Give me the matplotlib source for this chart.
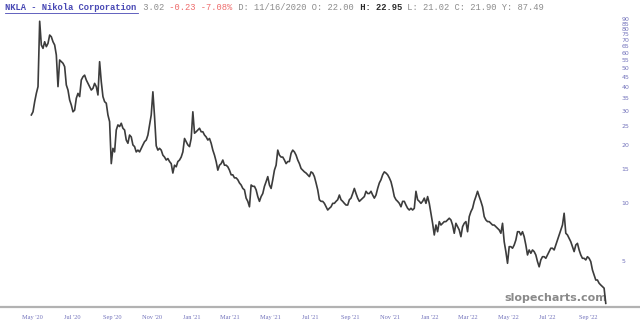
import matplotlib
matplotlib.use('Agg')
import matplotlib.pyplot as plt
import matplotlib.dates as mdates
from matplotlib.lines import Line2D
from matplotlib.ticker import NullLocator
import pandas as pd

# ---- data ----
prices = [
    28.6, 29.7, 33.5, 37.0, 40.1, 87.5, 65.9, 63.3, 68.5, 64.6,
    67.2, 74.2, 72.7, 68.5, 65.9, 58.5, 40.1, 55.1, 54.0, 53.0,
    50.9, 40.9, 38.5, 34.2, 32.2, 29.7, 30.3, 34.9, 37.0, 35.6,
    43.4, 45.1, 46.0, 43.4, 41.7, 40.1, 38.5, 39.3, 41.7, 40.1,
    36.3, 54.0, 42.5, 35.6, 33.5, 32.9, 28.6, 26.4, 16.0, 19.2,
    18.4, 23.9, 25.4, 24.9, 25.9, 24.4, 23.9, 21.2, 20.4, 22.5,
    22.0, 20.0, 19.6, 18.4, 18.8, 18.4, 19.2, 20.0, 20.8, 21.2,
    22.5, 25.4, 28.6, 37.7, 28.0, 19.8, 18.8, 19.2, 18.8, 17.7,
    17.3, 16.7, 17.0, 16.4, 16.0, 14.3, 15.7, 15.4, 16.4, 16.7,
    17.3, 18.4, 21.6, 20.8, 20.0, 19.6, 21.6, 29.7, 23.0, 23.4,
    23.9, 24.4, 23.4, 23.4, 22.5, 22.0, 21.2, 21.6, 20.4, 18.8,
    17.7, 16.4, 14.8, 15.7, 16.0, 16.7, 15.7, 15.7, 15.4, 14.8,
    14.0, 14.0, 13.5, 13.5, 13.2, 12.7, 12.4, 11.9, 11.7, 10.6,
    10.2, 9.56, 12.4, 12.2, 12.2, 11.7, 10.8, 10.2, 10.8, 11.2,
    12.2, 12.9, 13.7, 12.4, 11.9, 13.2, 14.8, 15.7, 18.8, 17.7,
    17.3, 17.3, 16.7, 16.0, 16.4, 16.4, 18.1, 18.8, 18.4, 17.7,
    16.7, 16.0, 15.1, 14.8, 14.5, 14.3, 14.0, 13.7, 14.5, 14.3,
    13.7, 12.7, 11.7, 10.4, 10.2, 10.2, 9.96, 9.56, 9.20, 9.39,
    9.56, 9.96, 9.96, 10.2, 10.4, 11.0, 10.4, 10.2, 9.96, 9.76,
    9.76, 10.4, 10.6, 11.2, 11.9, 11.2, 10.6, 10.2, 10.4, 10.6,
    10.8, 11.5, 11.2, 11.2, 11.5, 11.0, 10.6, 11.0, 11.9, 12.7,
    13.2, 14.0, 14.5, 14.3, 14.0, 13.5, 12.9, 11.9, 10.8, 10.4,
    10.2, 9.96, 9.56, 10.2, 10.2, 9.76, 9.39, 9.20, 9.39, 9.20,
    9.39, 11.5, 10.4, 10.2, 9.96, 10.2, 10.6, 9.96, 10.8, 9.96,
    8.85, 7.85, 6.83, 7.69, 7.10, 8.01, 7.69, 7.85, 8.01, 8.01,
    8.17, 8.34, 8.17, 7.69, 6.97, 7.85, 7.54, 7.25, 6.69, 7.54,
    7.85, 8.01, 7.10, 8.50, 9.02, 9.39, 10.2, 10.8, 11.5, 10.8,
    10.2, 9.56, 8.50, 8.17, 8.01, 8.01, 7.85, 7.69, 7.69, 7.54,
    7.40, 7.25, 6.97, 7.85, 6.30, 5.60, 4.87, 5.94, 5.94, 5.83,
    6.06, 6.43, 7.10, 7.10, 6.83, 7.10, 6.69, 6.06, 5.38, 5.71,
    5.49, 5.71, 5.60, 5.38, 4.97, 4.67, 5.07, 5.27, 5.27, 5.17,
    5.38, 5.60, 5.83, 5.83, 5.71, 6.06, 6.43, 6.83, 7.25, 7.69,
    8.85, 6.97, 6.83, 6.56, 6.30, 5.94, 5.60, 6.06, 6.18, 5.71,
    5.38, 5.17, 5.17, 5.07, 5.27, 5.17, 4.97, 4.50, 4.24, 3.99,
    3.99, 3.84, 3.76, 3.69, 3.62, 3.02,
]
start_date = '2020-04-30'
end_date = '2022-09-28'

ytick_values = [5, 10, 15, 20, 25, 30, 35, 40, 45, 50, 55, 60, 65, 70, 75, 80, 85, 90]
xtick_dates = ['2020-05-01', '2020-07-01', '2020-09-01', '2020-11-01', '2021-01-01',
               '2021-03-01', '2021-05-01', '2021-07-01', '2021-09-01', '2021-11-01',
               '2022-01-01', '2022-03-01', '2022-05-01', '2022-07-01', '2022-09-01']
xtick_labels = ["May '20", "Jul '20", "Sep '20", "Nov '20", "Jan '21", "Mar '21",
                "May '21", "Jul '21", "Sep '21", "Nov '21", "Jan '22", "Mar '22",
                "May '22", "Jul '22", "Sep '22"]

title_segments = [
    ("NKLA - Nikola Corporation", '#4848b4', 'bold'),
    (" 3.02", '#8c8c8c', 'normal'),
    (" -0.23 -7.08%", '#ee6c6c', 'normal'),
    (" D: 11/16/2020 O: 22.00", '#8c8c8c', 'normal'),
    (" H: 22.95", '#2a2a2a', 'bold'),
    (" L: 21.02 C: 21.90 Y: 87.49", '#8c8c8c', 'normal'),
]

# ---- layout ----
W, H = 640, 330
fig = plt.figure(figsize=(W / 100, H / 100), dpi=100)
left_px, right_px, top_px, bottom_px = 0, 612, 12, 306
ax = fig.add_axes([left_px / W, 1 - bottom_px / H,
                   (right_px - left_px) / W, (bottom_px - top_px) / H])

dates = pd.date_range(start_date, end_date, periods=len(prices))
ax.plot(dates, prices, color='#3c3c3c', lw=1.2, zorder=3, clip_on=False)

ax.set_yscale('log')
ax.set_ylim(2.926, 97.7)
px_per_day = 0.652
x0 = mdates.date2num(pd.Timestamp('2020-05-01'))
ax.set_xlim(x0 - (32 - left_px) / px_per_day, x0 + (right_px - 32) / px_per_day)

tick_color = '#7474bc'
ax.yaxis.tick_right()
ax.set_yticks(ytick_values)
ax.set_yticklabels([str(v) for v in ytick_values])
ax.yaxis.set_minor_locator(NullLocator())
ax.tick_params(axis='y', length=0, pad=7, labelsize=4.5, labelcolor=tick_color)
for t in ax.get_yticklabels():
    t.set_family('DejaVu Sans')

ax.set_xticks(pd.to_datetime(xtick_dates))
ax.set_xticklabels(xtick_labels)
ax.xaxis.set_minor_locator(NullLocator())
ax.tick_params(axis='x', length=0, pad=6.5, labelsize=4.6, labelcolor=tick_color)
for t in ax.get_xticklabels():
    t.set_family('Liberation Serif')

for s in ax.spines.values():
    s.set_visible(False)

# bottom rule across the full width
fig.add_artist(Line2D([0, 1], [1 - 306.5 / H] * 2, transform=fig.transFigure,
                      color='#b2b2b2', lw=1.6))

# title line (monospace, segment by segment)
char_w = 5.3
x_px = 5
idx = 0
for txt, col, wt in title_segments:
    fig.text((5 + idx * char_w) / W, 1 - 8 / H, txt, family='Liberation Mono',
             fontsize=6.35, color=col, fontweight=wt, ha='left', va='center')
    idx += len(txt)
name_len = len(title_segments[0][0])
fig.add_artist(Line2D([5 / W, (5 + name_len * char_w) / W], [1 - 12.5 / H] * 2,
                      transform=fig.transFigure, color='#4848b4', lw=0.6))

# watermark beneath the price line
ax.text(556 / W, 1 - 298 / H, 'slopecharts.com', transform=fig.transFigure,
        ha='center', va='center', fontsize=8, fontweight='bold', color='#8a8a8a',
        family='DejaVu Sans', zorder=1)

fig.savefig('out.png', dpi=100, facecolor='white')
